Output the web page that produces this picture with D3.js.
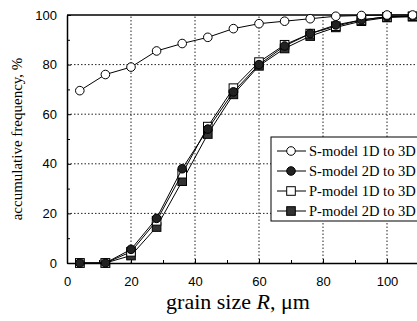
<!DOCTYPE html>
<html>
<head>
<meta charset="utf-8">
<script src="https://cdn.jsdelivr.net/npm/d3@7"></script>
<style>
  body { margin: 0; background: #fff; }
</style>
</head>
<body>
<div id="chart"></div>
<script>
// Cumulative grain size distribution, four model conversions

var width = 417,
	height = 321;
var margin = { top: 15, right: -2, bottom: 58, left: 67 };

// grain size R, um
var grainSize = [4, 12, 20, 28, 36, 44, 52, 60, 68, 76, 84, 92, 100, 108];

// accumulative frequency, %
var sModel1D = [69.5, 76, 79, 85.5, 88.5, 91, 94.5, 96.5, 97.5, 98.5, 99.5, 99.8, 100, 100];
var sModel2D = [0, 0, 5.5, 18, 38, 54, 69, 80, 87.5, 92.5, 96, 98, 99.3, 99.5];
var pModel1D = [0, 0, 4.5, 17, 36, 55, 70.5, 81, 88, 92.5, 95.5, 98, 99.3, 99.5];
var pModel2D = [0, 0, 3, 14.5, 33, 52, 68, 79.5, 86.5, 91.5, 95, 97.5, 99, 99.3];

var seriesNames = ["S-model 1D to 3D", "S-model 2D to 3D", "P-model 1D to 3D", "P-model 2D to 3D"];
var seriesValues = [sModel1D, sModel2D, pModel1D, pModel2D];
var seriesShape = ["circle", "circle", "square", "square"];
var seriesFill = ["#fff", "#222", "#fff", "#333"];

var xTicks = [0, 20, 40, 60, 80, 100];
var yTicks = [0, 20, 40, 60, 80, 100];
var xMinor = [10, 30, 50, 70, 90];
var yMinor = [10, 30, 50, 70, 90];

var x = d3.scaleLinear().domain([0, 110]).range([margin.left, width - margin.right]);
var y = d3.scaleLinear().domain([0, 100]).range([height - margin.bottom, margin.top]);

var svg = d3.select("#chart").append("svg")
	.attr("width", width)
	.attr("height", height);

// dotted grid lines at the major ticks
svg.append("g").selectAll("line.vgrid")
	.data(xTicks.filter(function(d) { return d > 0; }))
	.enter().append("line")
		.attr("x1", function(d) { return x(d); })
		.attr("x2", function(d) { return x(d); })
		.attr("y1", y(0))
		.attr("y2", y(100))
		.style("stroke", "#222")
		.style("stroke-width", 1)
		.style("stroke-dasharray", "1.5,2");

svg.append("g").selectAll("line.hgrid")
	.data(yTicks.filter(function(d) { return d > 0 && d < 100; }))
	.enter().append("line")
		.attr("x1", x(0))
		.attr("x2", x(110))
		.attr("y1", function(d) { return y(d); })
		.attr("y2", function(d) { return y(d); })
		.style("stroke", "#222")
		.style("stroke-width", 1)
		.style("stroke-dasharray", "1.5,2");

// axes, ticks pointing inward
var xAxis = d3.axisBottom(x).tickValues(xTicks).tickSizeInner(-4).tickSizeOuter(0).tickPadding(14);
var yAxis = d3.axisLeft(y).tickValues(yTicks).tickSizeInner(-4).tickSizeOuter(0).tickPadding(10);

var gx = svg.append("g")
	.attr("transform", "translate(0," + y(0) + ")")
	.call(xAxis);
var gy = svg.append("g")
	.attr("transform", "translate(" + x(0) + ",0)")
	.call(yAxis);

[gx, gy].forEach(function(g) {
	g.selectAll("path").style("stroke", "#000").style("stroke-width", 1.5);
	g.selectAll("line").style("stroke", "#000");
	g.selectAll("text")
		.style("font-family", "'Liberation Sans', Arial, sans-serif")
		.style("font-size", "13px")
		.style("fill", "#000");
});

svg.append("g").attr("transform", "translate(0," + y(0) + ")")
	.call(d3.axisBottom(x).tickValues(xMinor).tickSizeInner(-3).tickSizeOuter(0).tickFormat(""))
	.select("path").remove();
svg.append("g").attr("transform", "translate(" + x(0) + ",0)")
	.call(d3.axisLeft(y).tickValues(yMinor).tickSizeInner(-3).tickSizeOuter(0).tickFormat(""))
	.select("path").remove();

// top frame line
svg.append("line")
	.attr("x1", x(0)).attr("x2", x(110))
	.attr("y1", y(100)).attr("y2", y(100))
	.style("stroke", "#000").style("stroke-width", 1.5);

// series lines and markers
var line = d3.line()
	.x(function(d, i) { return x(grainSize[i]); })
	.y(function(d) { return y(d); });

function drawMarker(g, shape, fill, cx, cy) {
	if (shape === "circle") {
		g.append("circle")
			.attr("cx", cx).attr("cy", cy).attr("r", 4.3)
			.style("fill", fill).style("stroke", "#000").style("stroke-width", 1);
	} else {
		g.append("rect")
			.attr("x", cx - 4.3).attr("y", cy - 4.3)
			.attr("width", 8.6).attr("height", 8.6)
			.style("fill", fill).style("stroke", "#000").style("stroke-width", 1);
	}
}

var order = [3, 2, 1, 0];
order.forEach(function(s) {
	var g = svg.append("g");
	g.append("path")
		.datum(seriesValues[s])
		.attr("d", line)
		.style("fill", "none")
		.style("stroke", "#000")
		.style("stroke-width", 1);
	seriesValues[s].forEach(function(v, i) {
		drawMarker(g, seriesShape[s], seriesFill[s], x(grainSize[i]), y(v));
	});
});

// legend
var legX = 271, legY = 137, legW = 150, legH = 84;
var leg = svg.append("g");
leg.append("rect")
	.attr("x", legX).attr("y", legY)
	.attr("width", legW).attr("height", legH)
	.style("fill", "#fff").style("stroke", "#000").style("stroke-width", 1);

seriesNames.forEach(function(name, i) {
	var ly = legY + 14 + i * 20;
	leg.append("line")
		.attr("x1", legX + 6).attr("x2", legX + 35)
		.attr("y1", ly).attr("y2", ly)
		.style("stroke", "#000");
	drawMarker(leg, seriesShape[i], seriesFill[i], legX + 20, ly);
	leg.append("text")
		.attr("x", legX + 38).attr("y", ly + 5)
		.style("font-family", "'Liberation Serif', 'Times New Roman', serif")
		.style("font-size", "14.5px")
		.text(name);
});

// axis titles
var xt = svg.append("text")
	.attr("x", 238).attr("y", 309)
	.attr("text-anchor", "middle")
	.style("font-family", "'Liberation Serif', 'Times New Roman', serif")
	.style("font-size", "22px");
xt.append("tspan").text("grain size ");
xt.append("tspan").style("font-style", "italic").text("R");
xt.append("tspan").text(", \u03bcm");

svg.append("text")
	.attr("transform", "translate(22," + 139 + ") rotate(-90)")
	.attr("text-anchor", "middle")
	.style("font-family", "'Liberation Serif', 'Times New Roman', serif")
	.style("font-size", "15px")
	.text("accumulative frequency, %");
</script>
</body>
</html>
